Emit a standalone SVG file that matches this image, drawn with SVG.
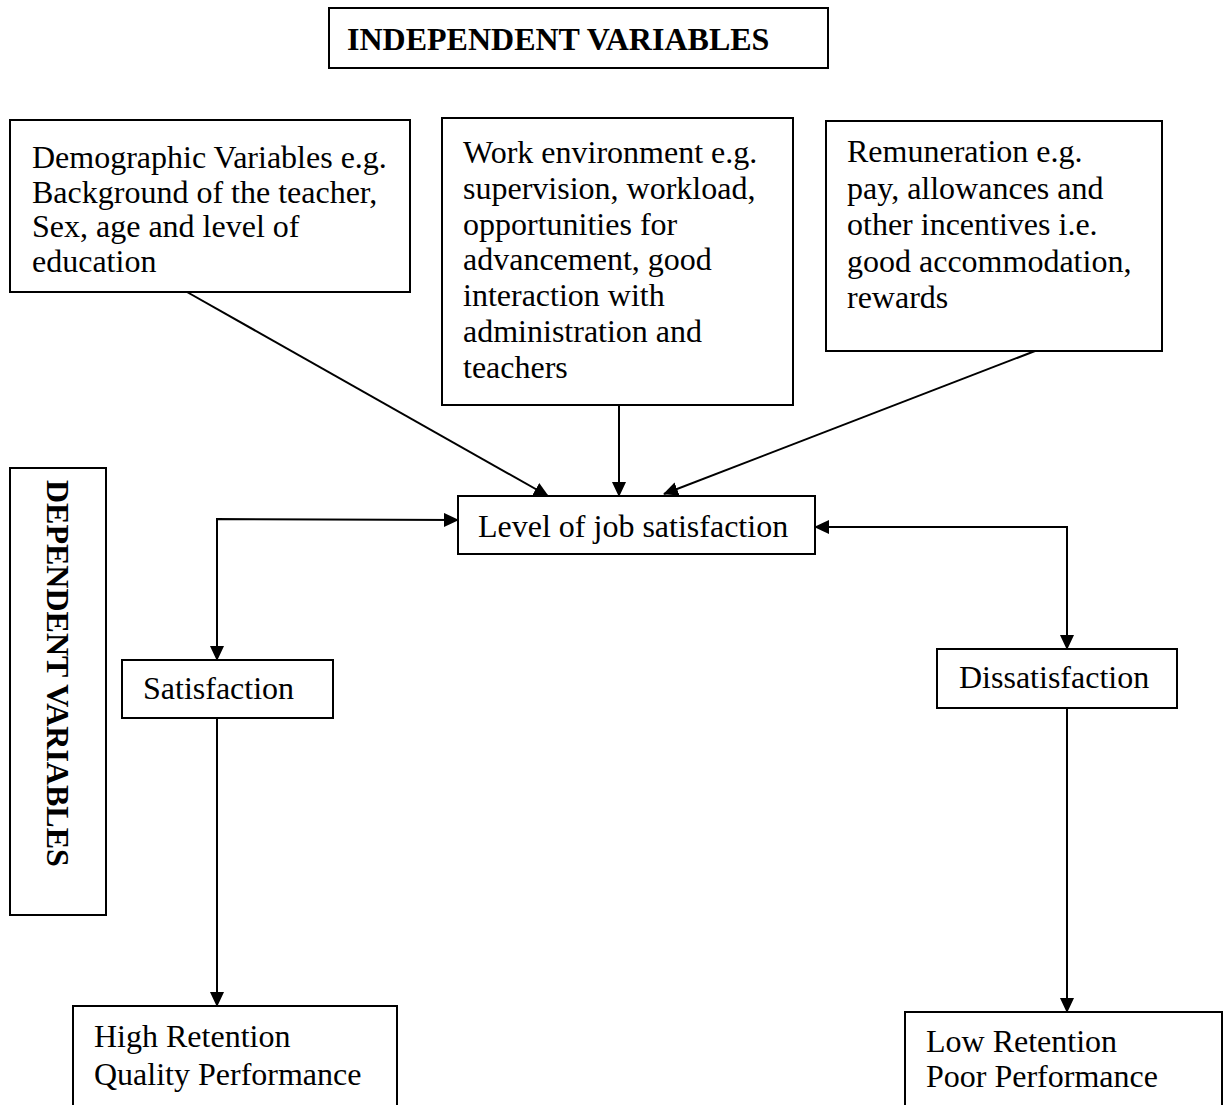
<svg xmlns="http://www.w3.org/2000/svg" width="1225" height="1105" viewBox="0 0 1225 1105">
<style>
.box{fill:#fff;stroke:#000;stroke-width:2}
.t{font-family:"Liberation Serif","Times New Roman",serif;font-size:32px;fill:#000}
.b{font-weight:bold}
.c{fill:none;stroke:#000;stroke-width:2}
</style>
<defs>
<marker id="arr" viewBox="0 0 15 14" refX="14" refY="7" markerWidth="15" markerHeight="14" markerUnits="userSpaceOnUse" orient="auto-start-reverse">
<path d="M0,0 L15,7 L0,14 z" fill="#000"/>
</marker>
</defs>
<rect width="1225" height="1105" fill="#fff"/>
<g id="connectors">
<path class="c" d="M187,292 L548,496" marker-end="url(#arr)"/>
<path class="c" d="M619,405 L619,496" marker-end="url(#arr)"/>
<path class="c" d="M1035,351 L664,494" marker-end="url(#arr)"/>
<path class="c" d="M458,520 L217,519 L217,660" marker-start="url(#arr)" marker-end="url(#arr)"/>
<path class="c" d="M815,527 L1067,527 L1067,649" marker-start="url(#arr)" marker-end="url(#arr)"/>
<path class="c" d="M217,718 L217,1006" marker-end="url(#arr)"/>
<path class="c" d="M1067,708 L1067,1012" marker-end="url(#arr)"/>
</g>
<g id="independent">
<rect class="box" x="329" y="8" width="499" height="60"/>
<text class="t b" x="347" y="50">INDEPENDENT VARIABLES</text>
</g>
<g id="demographic">
<rect class="box" x="10" y="120" width="400" height="172"/>
<text class="t" x="32" y="168">Demographic Variables e.g.</text>
<text class="t" x="32" y="203">Background of the teacher,</text>
<text class="t" x="32" y="237">Sex, age and level of</text>
<text class="t" x="32" y="272">education</text>
</g>
<g id="work">
<rect class="box" x="442" y="118" width="351" height="287"/>
<text class="t" x="463" y="163">Work environment e.g.</text>
<text class="t" x="463" y="199">supervision, workload,</text>
<text class="t" x="463" y="235">opportunities for</text>
<text class="t" x="463" y="270">advancement, good</text>
<text class="t" x="463" y="306">interaction with</text>
<text class="t" x="463" y="342">administration and</text>
<text class="t" x="463" y="378">teachers</text>
</g>
<g id="remuneration">
<rect class="box" x="826" y="121" width="336" height="230"/>
<text class="t" x="847" y="162">Remuneration e.g.</text>
<text class="t" x="847" y="198.5">pay, allowances and</text>
<text class="t" x="847" y="235">other incentives i.e.</text>
<text class="t" x="847" y="271.5">good accommodation,</text>
<text class="t" x="847" y="308">rewards</text>
</g>
<g id="level">
<rect class="box" x="458" y="496" width="357" height="58"/>
<text class="t" x="478" y="537">Level of job satisfaction</text>
</g>
<g id="dependent">
<rect class="box" x="10" y="468" width="96" height="447"/>
<text class="t b" transform="translate(47,480) rotate(90)">DEPENDENT VARIABLES</text>
</g>
<g id="satisfaction">
<rect class="box" x="122" y="660" width="211" height="58"/>
<text class="t" x="143" y="699">Satisfaction</text>
</g>
<g id="dissatisfaction">
<rect class="box" x="937" y="649" width="240" height="59"/>
<text class="t" x="959" y="688">Dissatisfaction</text>
</g>
<g id="high">
<rect class="box" x="73" y="1006" width="324" height="110"/>
<text class="t" x="94" y="1047">High Retention</text>
<text class="t" x="94" y="1085">Quality Performance</text>
</g>
<g id="low">
<rect class="box" x="905" y="1012" width="317" height="110"/>
<text class="t" x="926" y="1052">Low Retention</text>
<text class="t" x="926" y="1087">Poor Performance</text>
</g>
</svg>
